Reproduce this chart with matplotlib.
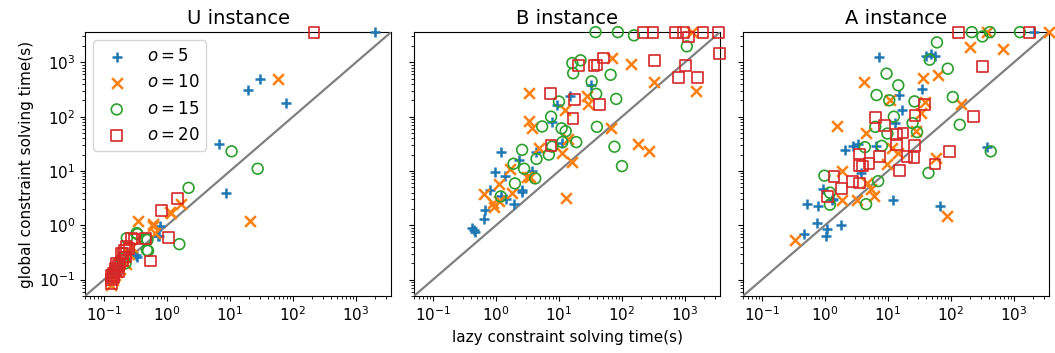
import matplotlib
matplotlib.use("Agg")
import matplotlib.pyplot as plt

# limits of both axes (time limit 3600 s)
lims = [0.05, 3600]
titles = ["U instance", "B instance", "A instance"]
labels = ["$o=5$", "$o=10$", "$o=15$", "$o=20$"]

# ---- U instance ----
u_o5_x = [2000, 19, 30, 78, 6.6, 8.6, 0.77, 0.74, 0.32, 0.33, 0.71, 0.14, 0.15, 0.17, 0.13, 0.16, 0.19, 0.22]
u_o5_y = [3600, 310, 500, 178, 31, 4.0, 0.96, 0.63, 0.29, 0.26, 0.63, 0.11, 0.13, 0.15, 0.09, 0.18, 0.2, 0.24]
u_o10_x = [58, 21, 1.65, 1.1, 0.6, 0.35, 0.65, 0.61, 1.17, 0.28, 0.2, 0.18, 0.15, 0.14, 0.16, 0.13, 0.25, 0.22]
u_o10_y = [500, 1.2, 2.5, 1.74, 1.07, 1.2, 0.72, 0.98, 1.7, 0.4, 0.22, 0.16, 0.12, 0.1, 0.14, 0.08, 0.3, 0.19]
u_o15_x = [10.6, 27.5, 2.2, 1.57, 0.49, 0.34, 0.23, 0.48, 0.33, 0.46, 0.5, 0.22, 0.17, 0.15, 0.19]
u_o15_y = [23, 11, 4.9, 0.45, 0.54, 0.69, 0.58, 0.35, 0.72, 0.56, 0.34, 0.2, 0.17, 0.14, 0.24]
u_o20_x = [215, 1.46, 0.82, 1.05, 0.54, 0.45, 0.27, 0.3, 0.21, 0.2, 0.13, 0.13, 0.14, 0.14, 0.15, 0.15,
           0.16, 0.17, 0.18, 0.2, 0.22, 0.14, 0.16, 0.19, 0.23, 0.25, 0.13, 0.17]
u_o20_y = [3600, 3.1, 1.86, 0.6, 0.22, 0.58, 0.58, 0.56, 0.35, 0.3, 0.085, 0.1, 0.12, 0.13, 0.14, 0.16,
           0.15, 0.18, 0.2, 0.22, 0.26, 0.11, 0.2, 0.3, 0.41, 0.37, 0.12, 0.14]

# ---- B instance ----
b_o5_x = [0.44, 0.47, 0.42, 0.65, 0.66, 0.79, 0.96, 1.19, 1.39, 1.19, 1.42, 1.9, 2.3, 2.6, 2.55, 3.8, 4.3,
          7.8, 9.4, 11, 15, 32]
b_o5_y = [0.83, 0.74, 0.89, 1.33, 1.89, 4.5, 9.7, 22, 8.2, 3.4, 3.05, 2.5, 16, 4.5, 4.1, 9.9, 22,
          81, 162, 33, 245, 380]
b_o10_x = [3.4, 3.4, 3.7, 4.8, 3.5, 3.07, 12.3, 11.3, 16, 12.8, 14, 28, 29, 69, 137, 324, 1300, 1480,
           67, 178, 265, 1.7, 1.12, 0.65, 0.93, 1.12, 1.77, 0.9]
b_o10_y = [276, 85, 63, 26, 7.9, 7.7, 131, 21, 14.4, 3.2, 38, 243, 170, 1200, 945, 440, 3600, 295,
           61, 31, 23, 11, 5.7, 3.8, 2.2, 2.75, 4.0, 2.6]
b_o15_x = [38, 86, 155, 1070, 16.3, 22, 16.8, 66, 33, 39, 81, 10, 7.5, 5.4, 11, 12.8, 11.3, 18.8, 7.8,
           6.9, 2.6, 4.4, 1.9, 2.8, 4.2, 2.0, 1.19, 40, 76, 100]
b_o15_y = [3600, 3600, 3140, 1970, 970, 1090, 630, 590, 446, 263, 212, 190, 100, 66, 61, 54, 34, 34, 28,
           20, 24.5, 16.7, 13.6, 11, 7.3, 5.9, 3.4, 65, 28, 12.3]
b_o20_x = [215, 310, 705, 960, 1940, 3400, 3500, 1150, 1020, 780, 1580, 325, 51, 36, 40, 20.7, 7.4, 17.4,
           44, 16.7, 7.5]
b_o20_y = [3600, 3600, 3600, 3600, 3600, 3600, 1440, 2930, 880, 530, 530, 1090, 1200, 880, 890, 865, 265,
           205, 166, 92, 29.5]

# ---- A instance ----
a_o5_x = [7.2, 40, 49, 56, 35, 15, 16.7, 13, 3.3, 2.8, 2.07, 6.4, 3.7, 0.94, 0.51, 0.77, 1.28, 0.75,
          0.46, 1.06, 1.03, 1.82, 11.9, 67, 380, 2090, 1.35]
a_o5_y = [1250, 1290, 1420, 1290, 325, 250, 130, 76, 31, 29, 24.5, 29, 9.1, 4.7, 2.5, 2.24, 2.96, 1.1,
          0.7, 0.86, 0.63, 1.0, 2.9, 2.3, 28, 3600, 3.1]
a_o10_x = [0.33, 4.2, 1.53, 35.5, 63, 204, 370, 680, 3600, 142, 4.5, 10.7, 34, 38.5, 1.9, 9.6, 14.5,
           11.8, 58, 87, 5.4, 5.9, 4.6, 3.2, 1.9, 28]
a_o10_y = [0.53, 435, 68, 515, 590, 1920, 3600, 1760, 3600, 174, 50, 205, 117, 183, 9.9, 13.2, 21,
           26.5, 17.5, 1.5, 4.6, 3.5, 6.0, 2.95, 2.95, 54]
a_o15_x = [60, 214, 316, 415, 1245, 46, 89, 9.5, 14.6, 6.6, 10.5, 26.4, 107, 12.4, 24.6, 6.3, 9.8, 29,
           138, 8, 4.3, 428, 44, 7.0, 0.98, 1.2, 1.2, 4.5]
a_o15_y = [2330, 3600, 3000, 3600, 3600, 1120, 765, 620, 378, 250, 200, 191, 230, 100, 76, 65, 49, 52,
           71, 29, 27.5, 23, 9.2, 6.5, 8.2, 4.0, 2.4, 2.45]
a_o20_x = [132, 1750, 316, 226, 96, 56, 15.1, 37.8, 27, 6.4, 8.9, 17.4, 13.8, 13.8, 26.4, 20, 26, 7.3,
           3.5, 3.5, 3.9, 5.0, 1.39, 2.75, 3.5, 1.84, 1.09]
a_o20_y = [3600, 3600, 850, 101, 23, 13.4, 10.3, 166, 105, 98, 68, 50, 47, 30.5, 29.5, 18.6, 18, 18.6,
           20.5, 12.6, 12.3, 13.6, 7.9, 6.5, 6.0, 4.7, 3.4]

panels = [
    [(u_o5_x, u_o5_y), (u_o10_x, u_o10_y), (u_o15_x, u_o15_y), (u_o20_x, u_o20_y)],
    [(b_o5_x, b_o5_y), (b_o10_x, b_o10_y), (b_o15_x, b_o15_y), (b_o20_x, b_o20_y)],
    [(a_o5_x, a_o5_y), (a_o10_x, a_o10_y), (a_o15_x, a_o15_y), (a_o20_x, a_o20_y)],
]

colors = ["tab:blue", "tab:orange", "tab:green", "tab:red"]
markers = ["+", "x", "o", "s"]

fig, axes = plt.subplots(1, 3, figsize=(10.55, 3.53), dpi=100, sharey=True)
fig.subplots_adjust(left=0.0806, right=0.9943, top=0.909, bottom=0.1615, wspace=0.075)

for ax, title, series in zip(axes, titles, panels):
    ax.plot(lims, lims, color="gray", lw=1.6, zorder=3)
    for (xs, ys), c, m, lab in zip(series, colors, markers, labels):
        if m in ("o", "s"):
            ax.scatter(xs, ys, marker=m, s=60, facecolors="none", edgecolors=c, linewidths=1.2,
                       label=lab, clip_on=False, zorder=4)
        else:
            ax.scatter(xs, ys, marker=m, s=60, color=c, linewidths=1.8, label=lab,
                       clip_on=False, zorder=4)
    ax.set_xscale("log")
    ax.set_yscale("log")
    ax.set_xlim(lims)
    ax.set_ylim(lims)
    ax.set_title(title, fontsize=14)
    ax.tick_params(labelsize=11)

axes[0].set_ylabel("global constraint solving time(s)", fontsize=11)
axes[1].set_xlabel("lazy constraint solving time(s)", fontsize=11)
axes[0].legend(loc="upper left", fontsize=12)

plt.savefig("out.png", dpi=100)
